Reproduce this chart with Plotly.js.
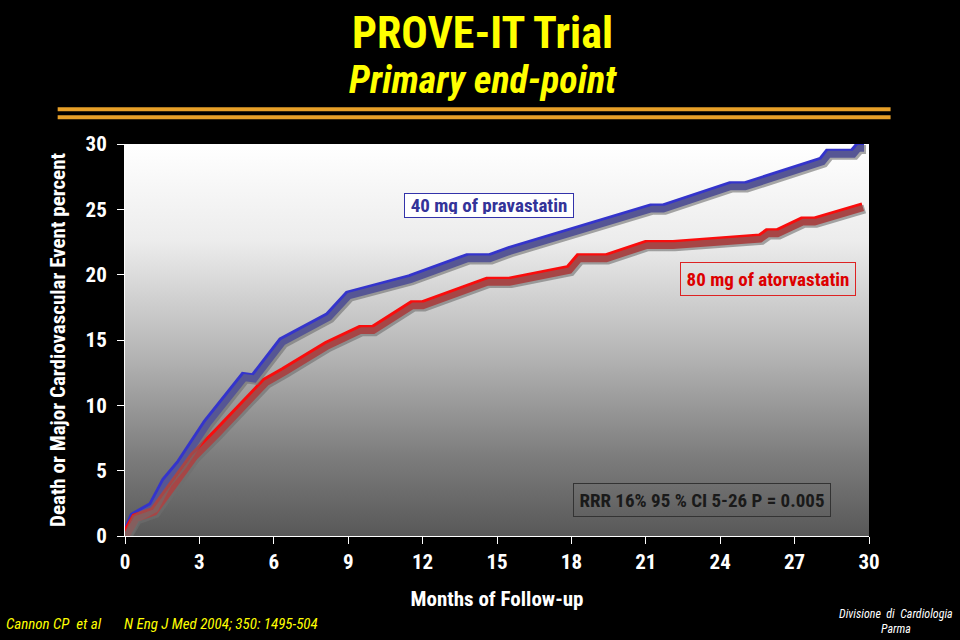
<!DOCTYPE html>
<html>
<head>
<meta charset="utf-8">
<script src="https://cdn.plot.ly/plotly-3.0.1.min.js"></script>
<style>
  html,body{margin:0;padding:0;background:#000;}
  #chart{width:960px;height:640px;}
</style>
</head>
<body>
<div id="chart"></div>
<script>
// ---- data ----
var pravaMonths = [0, 0.35, 1.1, 1.63, 2.24, 3.3, 4.79, 5.19, 6.33, 8.2, 9.0, 10.0, 11.5, 13.8, 14.7, 15.5, 18.3, 21.2, 21.7, 24.4, 25.0, 28.1, 28.35, 29.35, 29.55, 29.8];
var pravaEvents = [0, 1.5, 2.3, 4.2, 5.6, 8.65, 12.2, 12.1, 14.9, 16.8, 18.45, 19.0, 19.7, 21.3, 21.3, 21.85, 23.5, 25.1, 25.1, 26.8, 26.8, 28.7, 29.3, 29.3, 29.75, 29.75];
var atorMonths = [0, 0.42, 1.16, 1.76, 2.77, 3.71, 4.79, 5.66, 6.4, 8.14, 9.48, 10.0, 11.57, 12.0, 14.6, 15.5, 17.9, 18.3, 19.4, 21.0, 22.1, 25.6, 25.9, 26.3, 27.3, 27.8, 29.75];
var atorEvents = [0, 1.4, 1.9, 3.55, 6.1, 7.9, 10.2, 11.8, 12.6, 14.6, 15.8, 15.8, 17.7, 17.7, 19.5, 19.5, 20.4, 21.3, 21.3, 22.3, 22.3, 22.8, 23.2, 23.2, 24.1, 24.1, 25.2];
var xTickVals = [0, 3, 6, 9, 12, 15, 18, 21, 24, 27, 30];
var yTickVals = [0, 5, 10, 15, 20, 25, 30];

var FONT = "'Liberation Sans Narrow', 'Arial Narrow', 'Roboto Condensed', 'Liberation Sans', Arial, sans-serif";
var BLUE = 'rgb(52,52,204)';
var RED = 'rgb(250,12,12)';
var SHADOW = 'rgba(110,110,110,0.6)';

var traces = [
  {x: pravaMonths, y: pravaEvents, xaxis: 'x2', yaxis: 'y2', mode: 'lines', line: {color: SHADOW, width: 9}, hoverinfo: 'skip', showlegend: false},
  {x: atorMonths, y: atorEvents, xaxis: 'x2', yaxis: 'y2', mode: 'lines', line: {color: SHADOW, width: 9}, hoverinfo: 'skip', showlegend: false},
  {x: pravaMonths, y: pravaEvents, mode: 'lines', name: '40 mg of pravastatin', line: {color: BLUE, width: 9}, showlegend: false},
  {x: atorMonths, y: atorEvents, mode: 'lines', name: '80 mg of atorvastatin', line: {color: RED, width: 9}, showlegend: false}
];

var grad = "data:image/svg+xml;utf8," + encodeURIComponent(
  '<svg xmlns="http://www.w3.org/2000/svg" width="100" height="100" preserveAspectRatio="none">' +
  '<defs><linearGradient id="g" x1="0" y1="0" x2="0" y2="1">' +
  '<stop offset="0" stop-color="#ffffff"/>' +
  '<stop offset="0.25" stop-color="#ececec"/>' +
  '<stop offset="0.55" stop-color="#b2b2b2"/>' +
  '<stop offset="0.8" stop-color="#7c7c7c"/>' +
  '<stop offset="1" stop-color="#585858"/>' +
  '</linearGradient></defs><rect width="100" height="100" fill="url(#g)"/></svg>');

var layout = {
  width: 960, height: 640,
  paper_bgcolor: '#000000',
  plot_bgcolor: 'rgba(0,0,0,0)',
  margin: {l: 124.5, r: 90.5, t: 144, b: 103.5},
  font: {family: FONT, color: '#ffffff'},
  showlegend: false,
  xaxis: {
    range: [0, 30], tickvals: xTickVals, ticktext: xTickVals.map(String),
    ticks: 'outside', ticklen: 7, tickcolor: '#ffffff', tickwidth: 1,
    showgrid: false, zeroline: false, showline: true, linecolor: '#ffffff', linewidth: 1,
    tickfont: {family: FONT, size: 21, color: '#ffffff', weight: 'bold'},
    title: {text: '<b>Months of Follow-up</b>', font: {family: FONT, size: 21, color: '#ffffff'}, standoff: 18},
    fixedrange: true
  },
  yaxis: {
    range: [0, 30], tickvals: yTickVals, ticktext: yTickVals.map(String),
    ticks: 'outside', ticklen: 7, tickcolor: '#ffffff', tickwidth: 1, ticklabelstandoff: 6,
    showgrid: false, zeroline: false, showline: true, linecolor: '#ffffff', linewidth: 1,
    tickfont: {family: FONT, size: 21, color: '#ffffff', weight: 'bold'},
    title: {text: '<b>Death or Major Cardiovascular Event percent</b>', font: {family: FONT, size: 21, color: '#ffffff'}, standoff: 14},
    fixedrange: true
  },
  xaxis2: {overlaying: 'x', range: [-0.08, 29.92], visible: false, fixedrange: true},
  yaxis2: {overlaying: 'y', range: [0.17, 30.17], visible: false, fixedrange: true},
  images: [{source: grad, xref: 'paper', yref: 'paper', x: 0, y: 1, sizex: 1, sizey: 1,
            xanchor: 'left', yanchor: 'top', sizing: 'stretch', layer: 'below'}],
  shapes: [
    {type: 'line', xref: 'paper', yref: 'paper', x0: -0.0905, x1: 1.029, y0: 1.0889, y1: 1.0889, line: {color: 'rgb(232,160,40)', width: 4}},
    {type: 'line', xref: 'paper', yref: 'paper', x0: -0.0905, x1: 1.029, y0: 1.0685, y1: 1.0685, line: {color: 'rgb(232,160,40)', width: 4}}
  ],
  annotations: [
    {text: '<b>PROVE-IT Trial</b>', xref: 'paper', yref: 'paper', x: 0.4806, y: 1.2828, xanchor: 'center', yanchor: 'middle', showarrow: false,
     font: {family: FONT, size: 44, color: '#ffff00'}},
    {text: '<b><i>Primary end-point</i></b>', xref: 'paper', yref: 'paper', x: 0.4806, y: 1.163, xanchor: 'center', yanchor: 'middle', showarrow: false,
     font: {family: FONT, size: 38, color: '#ffff00'}},
    {text: '<b>40 mg of pravastatin</b>', x: 14.68, y: 25.27, xanchor: 'center', yanchor: 'middle', showarrow: false,
     font: {family: FONT, size: 19, color: '#333399'}, bgcolor: '#ffffff', bordercolor: '#3333aa', borderwidth: 1, borderpad: 3,
     width: 162, height: 17},
    {text: '<b>80 mg of atorvastatin</b>', x: 25.94, y: 19.69, xanchor: 'center', yanchor: 'middle', showarrow: false,
     font: {family: FONT, size: 19, color: '#dd0000'}, bgcolor: 'rgba(0,0,0,0)', bordercolor: '#dd2222', borderwidth: 1, borderpad: 3,
     width: 168, height: 26},
    {text: '<b>RRR 16% 95 % CI 5-26 P = 0.005</b>', x: 23.26, y: 2.79, xanchor: 'center', yanchor: 'middle', showarrow: false,
     font: {family: FONT, size: 19, color: '#1a1a1a'}, bgcolor: 'rgba(0,0,0,0)', bordercolor: '#333333', borderwidth: 1, borderpad: 3,
     width: 250, height: 26},
    {text: '<i>Cannon CP  et al</i>', xref: 'paper', yref: 'paper', x: -0.162, y: -0.2255, xanchor: 'left', yanchor: 'middle', showarrow: false,
     font: {family: FONT, size: 15, color: '#ffff00'}},
    {text: '<i>N Eng J Med 2004; 350: 1495-504</i>', xref: 'paper', yref: 'paper', x: -0.004, y: -0.2255, xanchor: 'left', yanchor: 'middle', showarrow: false,
     font: {family: FONT, size: 15, color: '#ffff00'}},
    {text: '<i>Divisione  di  Cardiologia</i>', xref: 'paper', yref: 'paper', x: 1.0369, y: -0.2, xanchor: 'center', yanchor: 'middle', showarrow: false,
     font: {family: FONT, size: 12, color: '#ffffff'}},
    {text: '<i>Parma</i>', xref: 'paper', yref: 'paper', x: 1.0369, y: -0.236, xanchor: 'center', yanchor: 'middle', showarrow: false,
     font: {family: FONT, size: 12, color: '#ffffff'}}
  ]
};

Plotly.newPlot('chart', traces, layout, {displayModeBar: false, staticPlot: true});
</script>
</body>
</html>
